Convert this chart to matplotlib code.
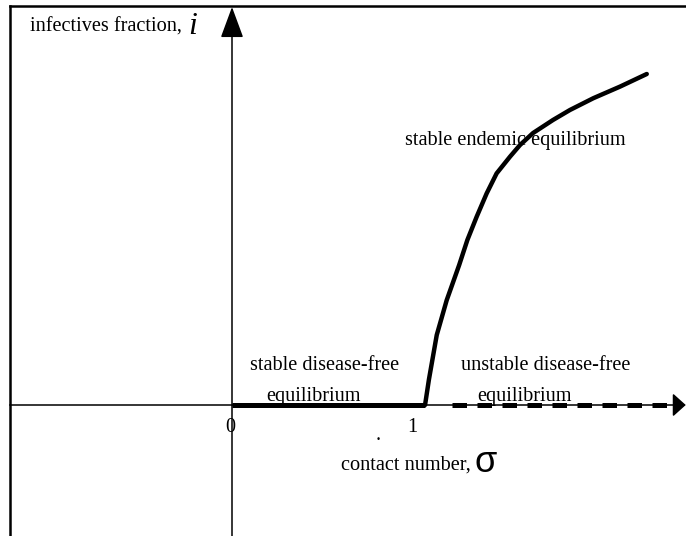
import numpy as np
import matplotlib.pyplot as plt

# Endemic equilibrium branch (sigma > 1)
sigma_endemic = [0.99, 1.010, 1.050, 1.101, 1.165, 1.207, 1.255, 1.306, 1.357,
                 1.426, 1.477, 1.544, 1.646, 1.733, 1.853, 1.990, 2.127]
i_endemic = [0.0, 0.064, 0.175, 0.262, 0.35, 0.4125, 0.471, 0.529, 0.579,
             0.621, 0.65, 0.68, 0.7125, 0.7375, 0.767, 0.796, 0.8275]

# Disease-free branch: stable for sigma < 1, unstable beyond
sigma_stable = [0.0, 0.99]
sigma_unstable = [1.128, 2.277]

fig = plt.figure(figsize=(6.86, 5.36), dpi=100)
ax = fig.add_axes([0, 0, 1, 1])
ax.set_xlim(-232 / 195, (686 - 232) / 195)
ax.set_ylim(-131 / 400, 405 / 400)
ax.axis('off')

serif = 'Liberation Serif'
fs = 14.6

# frame around the sketch (left and top edges only are visible)
ax.plot([0.0153, 0.0153], [0, 0.989], transform=ax.transAxes, color='black',
        lw=1.8, solid_capstyle='projecting')
ax.plot([0.0153, 1], [0.989, 0.989], transform=ax.transAxes, color='black',
        lw=1.8, solid_capstyle='projecting')

# coordinate axes with arrow heads
ax.annotate('', xy=(2.327, 0), xytext=(-1.14, 0), annotation_clip=False,
            arrowprops=dict(arrowstyle='-|>,head_length=0.8,head_width=0.72',
                            color='black', lw=1.1, shrinkA=0, shrinkB=0))
ax.annotate('', xy=(0, 0.995), xytext=(0, -0.33), annotation_clip=False,
            arrowprops=dict(arrowstyle='-|>,head_length=1.95,head_width=0.72',
                            color='black', lw=1.1, shrinkA=0, shrinkB=0))

# equilibrium branches
ax.plot(sigma_stable, [0, 0], color='black', lw=3.6, solid_capstyle='butt')
ax.plot(sigma_unstable, [0, 0], color='black', lw=3.6, ls=(0, (2.9, 2.1)))
ax.plot(sigma_endemic, i_endemic, color='black', lw=3.2,
        solid_capstyle='round', solid_joinstyle='round')

# labels
ax.text(-1.035, 0.945, 'infectives fraction,', fontfamily=serif, fontsize=fs,
        va='center', ha='left')
ax.text(-0.225, 0.945, 'i', fontfamily=serif, fontsize=23, style='italic',
        va='center', ha='left')
ax.text(1.451, 0.6625, 'stable endemic equilibrium', fontfamily=serif,
        fontsize=fs, ha='center', va='center')
ax.text(0.473, 0.1, 'stable disease-free', fontfamily=serif, fontsize=fs,
        ha='center', va='center')
ax.text(0.42, 0.022, 'equilibrium', fontfamily=serif, fontsize=fs,
        ha='center', va='center')
ax.text(1.61, 0.1, 'unstable disease-free', fontfamily=serif, fontsize=fs,
        ha='center', va='center')
ax.text(1.50, 0.022, 'equilibrium', fontfamily=serif, fontsize=fs,
        ha='center', va='center')
ax.text(-0.01, -0.0575, '0', fontfamily=serif, fontsize=fs, ha='center',
        va='center')
ax.text(0.923, -0.0575, '1', fontfamily=serif, fontsize=fs, ha='center',
        va='center')
ax.text(0.749, -0.075, '.', fontfamily=serif, fontsize=fs, ha='center',
        va='center')
ax.text(1.225, -0.15, 'contact number,', fontfamily=serif, fontsize=fs,
        ha='right', va='center')
ax.text(1.245, -0.143, 'σ', fontfamily='Liberation Sans', fontsize=26,
        ha='left', va='center')

fig.savefig('out.png', dpi=100)
